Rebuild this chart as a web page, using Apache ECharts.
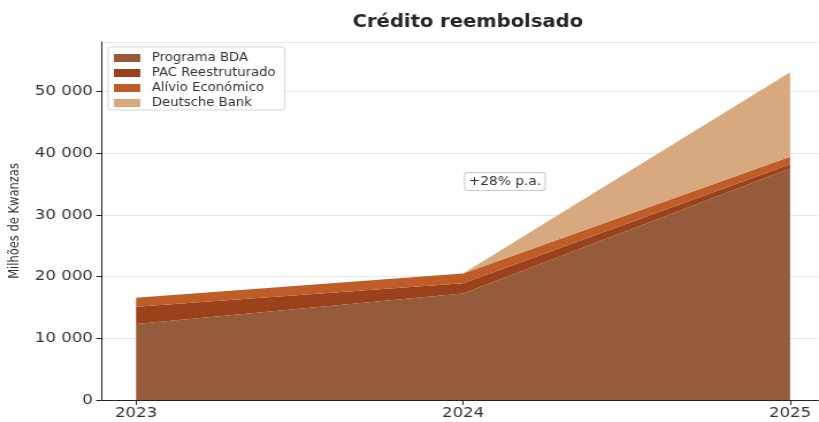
<!DOCTYPE html>
<html>
<head>
<meta charset="utf-8">
<script src="https://cdn.jsdelivr.net/npm/echarts@6/dist/echarts.min.js"></script>
<style>
  html, body { margin: 0; padding: 0; background: #ffffff; overflow: hidden; }
  /* the figure is drawn narrower and widened, giving its slightly broad lettering */
  #chart { width: 712px; height: 422px; transform: scaleX(1.1503); transform-origin: 0 0; }
</style>
</head>
<body>
<div id="chart"></div>
<script>
// Anos
const years = [2023, 2024, 2025];
// Crédito reembolsado por programa (milhões de Kwanzas)
const programaBDA = [12300, 17250, 37500];
const pacReestruturado = [2800, 1650, 700];
const alivioEconomico = [1450, 1600, 1200];
const deutscheBank = [0, 0, 13700];

const seriesNames = ['Programa BDA', 'PAC Reestruturado', 'Alívio Económico', 'Deutsche Bank'];
const seriesValues = [programaBDA, pacReestruturado, alivioEconomico, deutscheBank];
const seriesColors = ['#955b3a', '#9a421c', '#c05c28', '#d8a87e'];

function fmt(v) {
  return String(v).replace(/\B(?=(\d{3})+(?!\d))/g, ' ');
}

const chart = echarts.init(document.getElementById('chart'), null, { renderer: 'canvas' });

// value first, year second: the stack then sums the values, not the years
const series = seriesNames.map((name, i) => ({
  name: name,
  type: 'line',
  stack: 'total',
  dimensions: ['valor', 'ano'],
  encode: { x: 'ano', y: 'valor' },
  symbol: 'none',
  lineStyle: { width: 0 },
  itemStyle: { color: seriesColors[i] },
  areaStyle: { color: seriesColors[i], opacity: 1 },
  emphasis: { disabled: true },
  data: years.map((y, j) => [seriesValues[i][j], y])
}));

chart.setOption({
  animation: false,
  backgroundColor: '#ffffff',
  title: {
    text: 'Crédito reembolsado',
    left: 401.7,
    textAlign: 'center',
    top: 9,
    textStyle: { fontFamily: 'DejaVu Sans', fontSize: 17, fontWeight: 'bold', color: '#262626' }
  },
  legend: {
    orient: 'vertical',
    left: 94,
    top: 47,
    padding: [5, 8, 1, 5],
    itemGap: 3,
    itemWidth: 23,
    itemHeight: 8,
    backgroundColor: 'rgba(255,255,255,0.85)',
    borderColor: '#d6d6d6',
    borderWidth: 1,
    borderRadius: 3,
    icon: 'rect',
    data: seriesNames,
    textStyle: { fontFamily: 'DejaVu Sans', fontSize: 11.5, color: '#333333', padding: [0, 0, 0, 5] }
  },
  grid: { left: 88.7, top: 42, width: 622.6, bottom: 22, containLabel: false, outerBoundsMode: 'none' },
  xAxis: {
    type: 'value',
    min: 2022.896,
    max: 2025.086,
    axisLine: { show: true, lineStyle: { color: '#222222', width: 1 } },
    axisTick: { show: true, customValues: years, length: 5, lineStyle: { color: '#222222' } },
    axisLabel: {
      customValues: years,
      formatter: v => String(v),
      fontFamily: 'DejaVu Sans', fontSize: 14.4, color: '#333333', margin: 6
    },
    splitLine: { show: false }
  },
  yAxis: {
    type: 'value',
    min: 0,
    max: 58000,
    interval: 10000,
    name: 'Milhões de Kwanzas',
    nameLocation: 'middle',
    nameGap: 65,
    nameTextStyle: { fontFamily: 'DejaVu Sans', fontSize: 11.5, color: '#333333' },
    axisLine: { show: true, lineStyle: { color: '#222222', width: 1 } },
    axisTick: { show: true, length: 5, lineStyle: { color: '#222222' } },
    axisLabel: {
      showMaxLabel: false,
      formatter: v => fmt(v),
      fontFamily: 'DejaVu Sans', fontSize: 14.4, color: '#333333', margin: 8
    },
    splitLine: { show: true, lineStyle: { color: '#e6e6e6', width: 1 } }
  },
  series: series
});

// Anotação da taxa de crescimento
const p = chart.convertToPixel({ gridIndex: 0 }, [2024.128, 35400]);
chart.setOption({
  graphic: [{
    type: 'text',
    x: p[0],
    y: p[1],
    z: 100,
    style: {
      text: '+28% p.a.',
      fontFamily: 'DejaVu Sans',
      fontSize: 12,
      fill: '#333333',
      align: 'center',
      verticalAlign: 'middle',
      backgroundColor: 'rgba(255,255,255,0.9)',
      borderColor: '#cccccc',
      borderWidth: 1,
      borderRadius: 2,
      padding: [3, 3, 2, 3]
    }
  }]
});
</script>
</body>
</html>
